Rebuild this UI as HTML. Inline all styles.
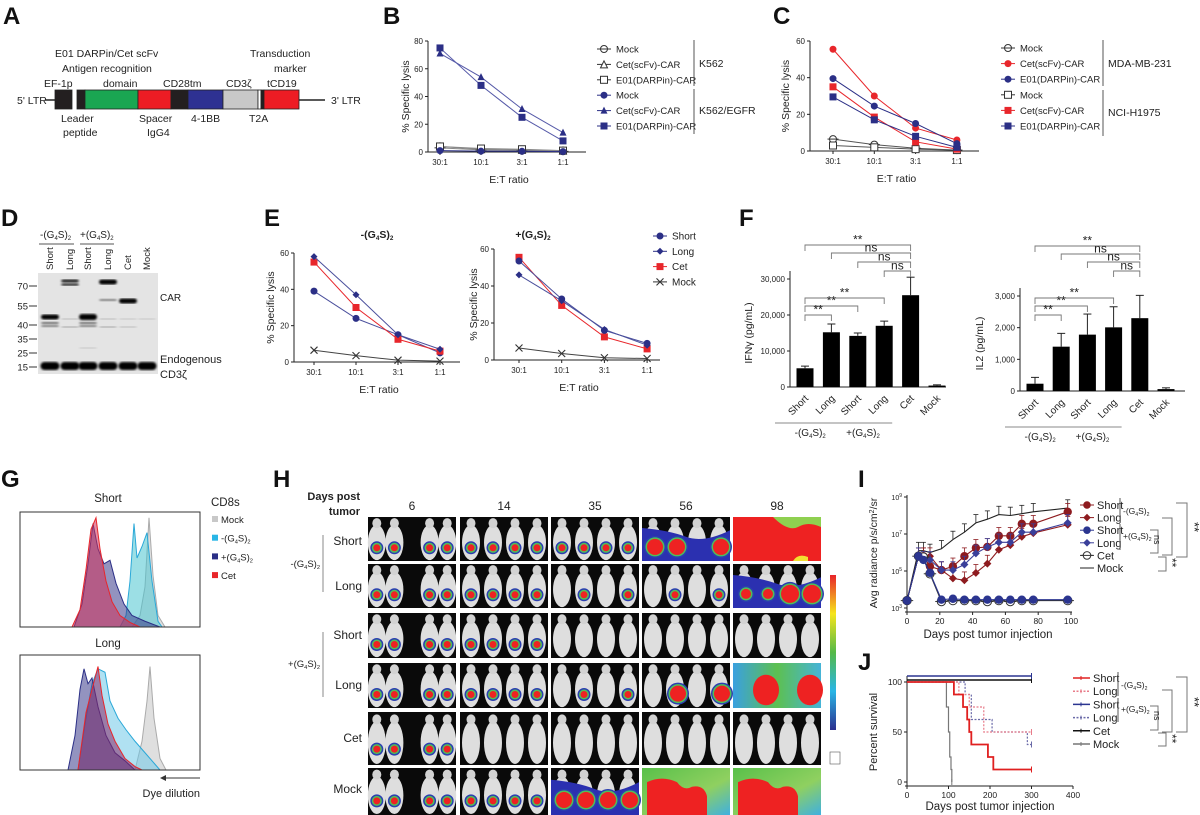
<!DOCTYPE html>
<html><head><meta charset="utf-8"><style>
html,body{margin:0;padding:0;background:#fff;}
svg{display:block;font-family:"Liberation Sans",sans-serif;}
</style></head><body>
<svg id="fig" width="1200" height="815" viewBox="0 0 1200 815" xmlns="http://www.w3.org/2000/svg">
<defs>
<filter id="blur1"><feGaussianBlur stdDeviation="1.1"/></filter>
<linearGradient id="cbar" x1="0" y1="0" x2="0" y2="1">
<stop offset="0" stop-color="#e8232a"/><stop offset="0.25" stop-color="#f6e51b"/><stop offset="0.5" stop-color="#54b948"/><stop offset="0.75" stop-color="#29b6e6"/><stop offset="1" stop-color="#2b2f8f"/></linearGradient>
<linearGradient id="gbg" x1="0" y1="0" x2="1" y2="0"><stop offset="0" stop-color="#3aa0e0"/><stop offset="0.5" stop-color="#5dc050"/><stop offset="1" stop-color="#46b4d8"/></linearGradient>
<linearGradient id="mockbg" x1="0" y1="0" x2="1" y2="1"><stop offset="0" stop-color="#59c04a"/><stop offset="0.6" stop-color="#8fd060"/><stop offset="1" stop-color="#40b0e0"/></linearGradient>
</defs>
</svg>
<script>
// ---------- data ----------
const etCats=['30:1','10:1','3:1','1:1'];
// B
const bMockK562=[3,1.5,1,0.5];
const bCetK562=[4,2,1.5,1];
const bE01K562=[4,2.5,2,1];
const bMockEGFR=[1,0.6,0.5,0.3];
const bCetEGFR=[71,54,31,14];
const bE01EGFR=[75,48,25,8];
const bYTicks=[0,20,40,60,80];
// C
const cMockMDA=[6.5,3.5,1.5,0.5];
const cCetMDA=[55.5,30,12.5,6];
const cE01MDA=[39.5,24.5,15,4];
const cMockNCI=[3,2,1,0.5];
const cCetNCI=[35,18.5,5,1];
const cE01NCI=[29.5,17,8,2];
const cYTicks=[0,20,40,60];
// E
const eShortMinus=[39,24,15,5];
const eLongMinus=[58,37,15,7];
const eCetMinus=[55,30,12.5,6];
const eMockMinus=[6.5,3.5,1,0.5];
const eShortPlus=[53.5,33,16,9];
const eLongPlus=[46,32,16.5,8];
const eCetPlus=[55.5,29.5,12.5,6];
const eMockPlus=[6.5,3.5,1.2,0.8];
const eYTicks=[0,20,40,60];
// F
const fCats=['Short','Long','Short','Long','Cet','Mock'];
const fIfng=[5200,15200,14200,17000,25500,400];
const fIfngErr=[600,2300,800,1300,5000,200];
const fIl2=[230,1400,1780,2010,2300,60];
const fIl2Err=[200,420,650,650,720,40];
const fIfngTicks=[0,10000,20000,30000];
const fIfngTickLabels=['0','10,000','20,000','30,000'];
const fIl2Ticks=[0,1000,2000,3000];
const fIl2TickLabels=['0','1,000','2,000','3,000'];
// G histograms: [channel, count%]
const gShortCet=[[52,0],[60,15],[66,50],[71,85],[76,95],[80,68],[86,40],[92,22],[100,10],[110,4],[120,0]];
const gShortPlus=[[54,0],[62,20],[68,55],[73,90],[78,68],[84,55],[90,58],[96,38],[104,20],[112,10],[125,5],[140,0]];
const gShortMinus=[[100,0],[106,10],[110,40],[114,90],[117,60],[122,70],[127,82],[132,40],[138,5],[142,0]];
const gShortMock=[[112,0],[120,10],[125,35],[129,95],[133,45],[138,10],[145,0]];
const gLongPlus=[[48,0],[55,30],[60,70],[64,88],[68,75],[72,80],[78,55],[86,30],[95,15],[105,8],[115,0]];
const gLongMinus=[[58,0],[65,40],[72,75],[78,88],[85,85],[90,60],[98,45],[106,35],[115,25],[125,15],[135,5],[140,0]];
const gLongCet=[[58,0],[66,50],[72,70],[78,90],[82,65],[88,40],[95,25],[105,10],[115,3],[122,0]];
const gLongMock=[[115,0],[122,25],[127,60],[130,90],[134,45],[140,10],[146,0]];
// H
const hDays=['6','14','35','56','98'];
const hRows=['Short','Long','Short','Long','Cet','Mock'];
const hSignal=[['s','s','s','B','F'],['s','s','s2','s2','B'],['s','s','n','n','n'],['s','s','s2','R','G'],['s','n','n','n','n'],['s','s','B','M','M']];
// I (log10 radiance)
const iDays=[0,7,10,14,21,28,35,42,49,56,63,70,77,98];
const iMock=[3.4,6.1,6.1,6.0,6.2,6.7,7.1,7.6,7.8,8.05,8.0,8.1,8.2,8.4];
const iShortMinus=[3.4,5.8,5.8,5.25,5.05,5.25,5.8,6.25,6.3,6.9,6.9,7.55,7.55,8.2];
const iLongMinus=[3.4,5.8,5.8,5.8,5.05,4.6,4.5,4.9,5.4,6.15,6.4,6.85,7.05,7.5];
const iShortPlus=[3.4,5.8,5.6,4.9,3.45,3.5,3.45,3.45,3.45,3.45,3.45,3.45,3.45,3.45];
const iLongPlus=[3.4,5.8,5.6,5.6,5.05,5.05,5.35,5.95,6.3,6.55,6.55,7.1,7.1,7.6];
const iCet=[3.4,5.8,5.75,4.85,3.35,3.4,3.4,3.4,3.35,3.4,3.35,3.4,3.4,3.4];
const iXTicks=[0,20,40,60,80,100];
const iYTicks=[3,5,7,9];
// J survival
const jShortMinusT=[0,113,135,145,150,155,195,208,300];
const jShortMinusS=[100,87.5,75,62.5,50,37.5,25,12.5,12.5];
const jLongMinusT=[0,125,150,185,300];
const jLongMinusS=[100,87.5,75,50,50];
const jLongPlusT=[0,140,155,205,290,300];
const jLongPlusS=[100,87.5,62.5,50,37.5,37.5];
const jMockT=[0,95,100,103,106,108];
const jMockS=[100,75,50,25,12.5,0];
const jCetT=[0,300];
const jCetS=[100,100];
const jShortPlusT=[0,300];
const jShortPlusS=[100,100];
const jXTicks=[0,100,200,300,400];
const jYTicks=[0,50,100];

// ---------- helpers ----------
const NS='http://www.w3.org/2000/svg';
const svg=document.getElementById('fig');
const NAVY='#2b2f86', RED='#e8262b', DRED='#8e1b1f';
function el(parent,tag,attrs,name){
  const e=document.createElementNS(NS,tag);
  for(const k in attrs) e.setAttribute(k,attrs[k]);
  
  
  parent.appendChild(e);return e;
}
function grp(name){return el(svg,'g',{},name);}
function txt(p,x,y,s,size,name,o){
  const t=el(p,'text',Object.assign({x:x,y:y,'font-size':size,fill:'#222'},o||{}),name);
  t.textContent=s;return t;
}
function g4s(p,x,y,size,sign,anchor,name,bold){
  const t=el(p,'text',{x:x,y:y,'font-size':size,'text-anchor':anchor||'start','font-weight':bold?'bold':'normal',fill:'#222'},name);
  const s=(size*0.6).toFixed(1);
  t.innerHTML=sign+'(G<tspan font-size="'+s+'" dy="2">4</tspan><tspan dy="-2">S)</tspan><tspan font-size="'+s+'" dy="2">2</tspan>';
  return t;
}
function line(p,x1,y1,x2,y2,name,st,w,dash){
  const o={x1:x1,y1:y1,x2:x2,y2:y2,stroke:st||'#222','stroke-width':w||1};
  if(dash)o['stroke-dasharray']=dash;
  return el(p,'line',o,name);
}
function marker(p,type,x,y,c,r,name){
  r=r||3.5;
  if(type==='circle')return el(p,'circle',{cx:x,cy:y,r:r,fill:c},name);
  if(type==='ocircle'){const g=el(p,'g',{},name);el(g,'circle',{cx:x,cy:y,r:r,fill:'#fff',stroke:c,'stroke-width':1},name+'-ring');el(g,'line',{x1:x-r-2,y1:y,x2:x+r+2,y2:y,stroke:c,'stroke-width':1},name+'-bar');return g;}
  if(type==='sq')return el(p,'rect',{x:x-r,y:y-r,width:2*r,height:2*r,fill:c},name);
  if(type==='osq')return el(p,'rect',{x:x-r,y:y-r,width:2*r,height:2*r,fill:'#fff',stroke:c,'stroke-width':1},name);
  if(type==='tri')return el(p,'polygon',{points:(x)+','+(y-r-0.5)+' '+(x-r)+','+(y+r-0.5)+' '+(x+r)+','+(y+r-0.5),fill:c},name);
  if(type==='otri')return el(p,'polygon',{points:(x)+','+(y-r)+' '+(x-r)+','+(y+r)+' '+(x+r)+','+(y+r),fill:'#fff',stroke:c},name);
  if(type==='dia')return el(p,'polygon',{points:x+','+(y-r)+' '+(x+r)+','+y+' '+x+','+(y+r)+' '+(x-r)+','+y,fill:c},name);
  if(type==='x'){const g=el(p,'g',{},name);el(g,'path',{d:'M'+(x-r)+','+(y-r)+'L'+(x+r)+','+(y+r)+'M'+(x-r)+','+(y+r)+'L'+(x+r)+','+(y-r),stroke:c,'stroke-width':1.1},name+'-cross');return g;}
}
function yLabel(p,x,y,s,size,name){return txt(p,x,y,s,size,name,{'text-anchor':'middle',transform:'rotate(-90 '+x+' '+y+')'});}

function lineChart(name,cfg){
  const g=grp(name);
  const xs=i=>cfg.xStart+i*cfg.xStep;
  const ys=v=>cfg.y0-v/cfg.ymax*(cfg.y0-cfg.yTop);
  line(g,cfg.ax,cfg.y0,cfg.ax,cfg.yTop,name+'-y-axis');
  line(g,cfg.ax,cfg.y0,cfg.axEnd,cfg.y0,name+'-x-axis');
  cfg.yticks.forEach(v=>{line(g,cfg.ax-3,ys(v),cfg.ax,ys(v),name+'-y-tick');
    txt(g,cfg.ax-5,ys(v)+3,String(v),8,name+'-y-tick-label',{'text-anchor':'end'});});
  cfg.cats.forEach((c,i)=>{line(g,xs(i),cfg.y0,xs(i),cfg.y0+3,name+'-x-tick');
    txt(g,xs(i),cfg.y0+13,c,8,name+'-x-tick-label',{'text-anchor':'middle'});});
  yLabel(g,cfg.ylx,(cfg.y0+cfg.yTop)/2,'% Specific lysis',10.5,name+'-y-axis-title');
  txt(g,(cfg.ax+cfg.axEnd)/2+2,cfg.y0+31,'E:T ratio',10.5,name+'-x-axis-title',{'text-anchor':'middle'});
  cfg.series.forEach(s=>{
    const pts=s.vals.map((v,i)=>xs(i)+','+ys(v)).join(' ');
    el(g,'polyline',{points:pts,fill:'none',stroke:s.line||s.color,'stroke-width':1},name+'-line-'+s.key);
    s.vals.forEach((v,i)=>marker(g,s.type,xs(i),ys(v),s.color,s.r||3.5,name+'-point-'+s.key));
  });
  return g;
}
function legendRow(p,x,y,type,c,label,name,fs){
  line(p,x-7,y,x+7,y,name+'-line',c);
  marker(p,type,x,y,c,3.5,name+'-marker');
  txt(p,x+12,y+3.5,label,fs||10,name+'-label');
}
// ---------- panel letters ----------
const letters=grp('panel-letters');
[['A',3,24],['B',383,24],['C',773,24],['D',1,226],['E',264,226],['F',739,226],['G',1,487],['H',273,487],['I',858,487],['J',858,670]].forEach(l=>{
  txt(letters,l[1],l[2],l[0],24,'panel-letter-'+l[0],{'font-weight':'bold',fill:'#111'});
});

// ---------- A ----------
(function(){
  const g=grp('panel-a-construct');
  txt(g,17,104,"5' LTR",10.5,'ltr5-label');
  line(g,45,100,56,100,'ltr5-line','#222',1.5);
  line(g,298,100,325,100,'ltr3-line','#222',1.5);
  txt(g,331,104,"3' LTR",10.5,'ltr3-label');
  const boxes=[[55,72,'#231f20','ef1p-box'],[77,85,'#231f20','leader-box'],[85,138,'#1aa652','antigen-domain-box'],[138,171,'#ed1c24','spacer-box'],[171,188,'#231f20','cd28tm-box'],[188,223,'#2e3192','4-1bb-box'],[223,258,'#c8c8c8','cd3z-box'],[258,261,'#fff','t2a-box'],[261,264,'#231f20','t2a-bar'],[264,299,'#ed1c24','tcd19-box']];
  boxes.forEach(b=>el(g,'rect',{x:b[0],y:90,width:b[1]-b[0],height:19,fill:b[2],stroke:'#222','stroke-width':0.8},b[3]));
  const labs=[[55,57,'E01 DARPin/Cet scFv'],[62,72,'Antigen recognition'],[44,87,'EF-1p'],[103,87,'domain'],[163,87,'CD28tm'],[226,87,'CD3\u03b6'],[250,57,'Transduction'],[274,72,'marker'],[267,87,'tCD19'],[61,122,'Leader'],[63,136,'peptide'],[139,122,'Spacer'],[147,136,'IgG4'],[191,122,'4-1BB'],[249,122,'T2A']];
  labs.forEach(l=>txt(g,l[0],l[1],l[2],10.5,'construct-label'));
})();

// ---------- B ----------
lineChart('panel-b-chart',{ax:428,axEnd:586,y0:152,yTop:41,ymax:80,yticks:bYTicks,xStart:440,xStep:41,cats:etCats,ylx:409,
  series:[{key:'mock-k562',vals:bMockK562,type:'ocircle',color:'#333',line:'#888'},{key:'cet-k562',vals:bCetK562,type:'otri',color:'#333',line:'#888'},{key:'e01-k562',vals:bE01K562,type:'osq',color:'#333',line:'#888'},
  {key:'mock-egfr',vals:bMockEGFR,type:'circle',color:NAVY},{key:'cet-egfr',vals:bCetEGFR,type:'tri',color:NAVY,line:'#5559a8'},{key:'e01-egfr',vals:bE01EGFR,type:'sq',color:NAVY,line:'#5559a8'}]});
(function(){
  const g=grp('panel-b-legend');
  const rows=[['ocircle','#333','Mock'],['otri','#333','Cet(scFv)-CAR'],['osq','#333','E01(DARPin)-CAR'],['circle',NAVY,'Mock'],['tri',NAVY,'Cet(scFv)-CAR'],['sq',NAVY,'E01(DARPin)-CAR']];
  rows.forEach((r,i)=>legendRow(g,604,49+i*15.4,r[0],r[1],r[2],'legend-entry-b',9.5));
  line(g,694,40,694,86,'legend-bracket-k562','#555');
  line(g,694,89,694,134,'legend-bracket-egfr','#555');
  txt(g,699,67,'K562',10.5,'legend-group-k562');
  txt(g,699,114,'K562/EGFR',10.5,'legend-group-k562-egfr');
})();

// ---------- C ----------
lineChart('panel-c-chart',{ax:810,axEnd:979,y0:151,yTop:41,ymax:60,yticks:cYTicks,xStart:833,xStep:41.3,cats:etCats,ylx:789,
  series:[{key:'mock-mda',vals:cMockMDA,type:'ocircle',color:'#333',line:'#555'},{key:'mock-nci',vals:cMockNCI,type:'osq',color:'#333',line:'#555'},
  {key:'cet-mda',vals:cCetMDA,type:'circle',color:RED},{key:'e01-mda',vals:cE01MDA,type:'circle',color:NAVY},{key:'cet-nci',vals:cCetNCI,type:'sq',color:RED},{key:'e01-nci',vals:cE01NCI,type:'sq',color:NAVY}]});
(function(){
  const g=grp('panel-c-legend');
  const rows=[['ocircle','#333','Mock'],['circle',RED,'Cet(scFv)-CAR'],['circle',NAVY,'E01(DARPin)-CAR'],['osq','#333','Mock'],['sq',RED,'Cet(scFv)-CAR'],['sq',NAVY,'E01(DARPin)-CAR']];
  rows.forEach((r,i)=>legendRow(g,1008,48+i*15.6,r[0],r[1],r[2],'legend-entry-c',9.5));
  line(g,1103,40,1103,86,'legend-bracket-mda','#555');
  line(g,1103,90,1103,136,'legend-bracket-nci','#555');
  txt(g,1108,67,'MDA-MB-231',10.5,'legend-group-mda');
  txt(g,1108,116,'NCI-H1975',10.5,'legend-group-nci');
})();

// ---------- D ----------
(function(){
  const g=grp('panel-d-western-blot');
  g4s(g,40,238,10,'-','start','group-label-minus-g4s');
  g4s(g,80,238,10,'+','start','group-label-plus-g4s');
  line(g,39,244,74,244,'group-line-minus','#555');
  line(g,80,244,114,244,'group-line-plus','#555');
  const lanes=[50,70,88,108,128,147];
  ['Short','Long','Short','Long','Cet','Mock'].forEach((l,i)=>txt(g,lanes[i]+3,270,l,9.5,'lane-label',{transform:'rotate(-90 '+(lanes[i]+3)+' 270)'}));
  el(g,'rect',{x:38,y:273,width:120,height:101,fill:'#e4e4e4'},'blot-membrane');
  const mk=[['70',286],['55',306],['40',325],['35',339],['25',353],['15',367]];
  mk.forEach(m=>{txt(g,28,m[1]+3.5,m[0],9.5,'marker-label',{'text-anchor':'end'});line(g,29,m[1],37,m[1],'marker-tick','#333');});
  const bands=[[0,317,5,1],[0,323,2,0.6],[0,326,2,0.5],[1,281,3,0.9],[1,284.5,2.5,0.85],[1,319,1.5,0.2],[1,327,1.5,0.3],[2,317,6,1],[2,323,2,0.6],[2,326,2,0.5],[2,348,1.5,0.15],[3,282,5,1],[3,300,2,0.5],[3,319,1.5,0.2],[3,327,1.5,0.3],[4,301,5,1],[4,319,1.5,0.15],[4,327,1.5,0.2],[5,319,1.5,0.15]];
  bands.forEach(b=>el(g,'rect',{x:lanes[b[0]]-9,y:b[1]-b[2]/2,width:18,height:b[2],fill:'#000','fill-opacity':b[3],rx:3,filter:'url(#blur1)'},'blot-band'));
  lanes.forEach(x=>el(g,'rect',{x:x-9.5,y:362,width:19,height:8,fill:'#000',rx:4,filter:'url(#blur1)'},'blot-band-cd3z'));
  txt(g,160,301,'CAR',10,'band-label-car');
  txt(g,160,363,'Endogenous',11,'band-label-endogenous');
  txt(g,160,378,'CD3\u03b6',11,'band-label-cd3z');
})();

// ---------- E ----------
lineChart('panel-e-chart-minus',{ax:294,axEnd:460,y0:362,yTop:253,ymax:60,yticks:eYTicks,xStart:314,xStep:42,cats:etCats,ylx:274,
  series:[{key:'mock',vals:eMockMinus,type:'x',color:'#333',line:'#444'},{key:'short',vals:eShortMinus,type:'circle',color:NAVY,line:'#4a4f9c'},{key:'cet',vals:eCetMinus,type:'sq',color:RED},{key:'long',vals:eLongMinus,type:'dia',color:NAVY,line:'#4a4f9c'}]});
lineChart('panel-e-chart-plus',{ax:494,axEnd:660,y0:360,yTop:249,ymax:60,yticks:eYTicks,xStart:519,xStep:42.7,cats:etCats,ylx:477,
  series:[{key:'mock',vals:eMockPlus,type:'x',color:'#333',line:'#444'},{key:'cet',vals:eCetPlus,type:'sq',color:RED},{key:'short',vals:eShortPlus,type:'circle',color:NAVY,line:'#4a4f9c'},{key:'long',vals:eLongPlus,type:'dia',color:NAVY,line:'#4a4f9c'}]});
(function(){
  const g=grp('panel-e-titles-legend');
  g4s(g,377,238,10.5,'-','middle','e-title-minus',true);
  g4s(g,533,238,10.5,'+','middle','e-title-plus',true);
  const rows=[['circle',NAVY,'Short'],['dia',NAVY,'Long'],['sq',RED,'Cet'],['x','#333','Mock']];
  rows.forEach((r,i)=>legendRow(g,660,236+i*15.3,r[0],r[1],r[2],'legend-entry-e'));
})();

// ---------- F ----------
function barChart(name,cfg){
  const g=grp(name);
  const ys=v=>cfg.y0-v/cfg.ymax*(cfg.y0-cfg.yTop);
  const xs=i=>cfg.xStart+i*cfg.xStep;
  line(g,cfg.ax,cfg.y0,cfg.ax,cfg.yTop-8,name+'-y-axis');
  line(g,cfg.ax,cfg.y0,cfg.axEnd,cfg.y0,name+'-x-axis');
  cfg.ticks.forEach((v,i)=>{line(g,cfg.ax-3,ys(v),cfg.ax,ys(v),name+'-y-tick');txt(g,cfg.ax-5,ys(v)+3,cfg.tickLabels[i],8,name+'-y-tick-label',{'text-anchor':'end'});});
  cfg.vals.forEach((v,i)=>{
    const x=xs(i),e=cfg.errs[i];
    line(g,x,ys(v),x,ys(v+e),name+'-error-bar','#222');
    line(g,x-4,ys(v+e),x+4,ys(v+e),name+'-error-cap','#222');
    el(g,'rect',{x:x-8.5,y:ys(v),width:17,height:cfg.y0-ys(v),fill:'#000'},name+'-bar-'+i);
    const lx=x+4,ly=cfg.y0+12;
    txt(g,lx,ly,fCats[i],10,name+'-x-label',{'text-anchor':'end',transform:'rotate(-45 '+lx+' '+ly+')'});
  });
  yLabel(g,cfg.ylx,(cfg.y0+cfg.yTop)/2,cfg.ytitle,10.5,name+'-y-axis-title');
  cfg.brackets.forEach(b=>{
    const x1=xs(b[0]),x2=xs(b[1]);
    el(g,'path',{d:'M'+x1+','+(b[2]+6)+'V'+b[2]+'H'+x2+'V'+(b[2]+6),fill:'none',stroke:'#777','stroke-width':0.9},name+'-sig-bracket');
    txt(g,(x1+x2)/2,b[2]-1.5,b[3],12,name+'-sig-label',{'text-anchor':'middle'});
  });
  const gy=cfg.y0+36;
  line(g,xs(0)-30,gy,xs(1)+12,gy,name+'-group-line-minus','#888');
  line(g,xs(2)-28,gy,xs(3)+8,gy,name+'-group-line-plus','#888');
  g4s(g,(xs(0)+xs(1))/2-8,gy+13,10,'-','middle',name+'-group-label-minus');
  g4s(g,(xs(2)+xs(3))/2-8,gy+13,10,'+','middle',name+'-group-label-plus');
  return g;
}
barChart('panel-f-ifng-chart',{ax:790,axEnd:946,y0:387,yTop:279,ymax:30000,ticks:fIfngTicks,tickLabels:fIfngTickLabels,vals:fIfng,errs:fIfngErr,xStart:805,xStep:26.4,ylx:752,ytitle:'IFN\u03b3 (pg/mL)',
  brackets:[[0,4,245,'**'],[1,4,253,'ns'],[2,4,262,'ns'],[3,4,271,'ns'],[0,3,298,'**'],[0,2,306,'**'],[0,1,315,'**']]});
barChart('panel-f-il2-chart',{ax:1020,axEnd:1185,y0:391,yTop:296,ymax:3000,ticks:fIl2Ticks,tickLabels:fIl2TickLabels,vals:fIl2,errs:fIl2Err,xStart:1035,xStep:26.2,ylx:983,ytitle:'IL2 (pg/mL)',
  brackets:[[0,4,246,'**'],[1,4,254,'ns'],[2,4,262,'ns'],[3,4,271,'ns'],[0,3,298,'**'],[0,2,306,'**'],[0,1,315,'**']]});

// ---------- G ----------
(function(){
  const g=grp('panel-g-histograms');
  function hist(box,pts,fill,stroke,name){
    const d='M'+pts.map(p=>(box.x+p[0])+','+(box.y+box.h-p[1]/100*box.h)).join('L')+'Z';
    el(g,'path',{d:d,fill:fill,'fill-opacity':0.55,stroke:stroke,'stroke-width':1},name);
  }
  const b1={x:20,y:512,w:180,h:115},b2={x:20,y:655,w:180,h:115};
  txt(g,108,502,'Short',11.5,'histogram-title-short',{'text-anchor':'middle'});
  txt(g,108,647,'Long',11.5,'histogram-title-long',{'text-anchor':'middle'});
  hist(b1,gShortMock,'#c4c4c4','#aaa','hist-short-mock');
  hist(b1,gShortMinus,'#4bc4cf','#2aa8d8','hist-short-minus');
  hist(b1,gShortPlus,'#3b3b8a','#2b2f86','hist-short-plus');
  hist(b1,gShortCet,'#d0305a','#e8262b','hist-short-cet');
  hist(b2,gLongMock,'#c4c4c4','#aaa','hist-long-mock');
  hist(b2,gLongMinus,'#6fc8e8','#2aa8d8','hist-long-minus');
  hist(b2,gLongPlus,'#3b3b8a','#2b2f86','hist-long-plus');
  hist(b2,gLongCet,'#8a2a6a','#e8262b','hist-long-cet');
  el(g,'rect',{x:b1.x,y:b1.y,width:b1.w,height:b1.h,fill:'none',stroke:'#333','stroke-width':1},'histogram-box-short');
  el(g,'rect',{x:b2.x,y:b2.y,width:b2.w,height:b2.h,fill:'none',stroke:'#333','stroke-width':1},'histogram-box-long');
  txt(g,211,506,'CD8s',11.5,'legend-title-cd8s');
  const rows=[['#c8c8c8','Mock'],['#29b6e6','-'],['#2b2f86','+'],['#e8262b','Cet']];
  rows.forEach((r,i)=>{const y=520+i*18.7;
    el(g,'rect',{x:212,y:y-4,width:6,height:6,fill:r[0]},'legend-swatch-g');
    if(r[1]==='-'||r[1]==='+')g4s(g,221,y+3,9.5,r[1],'start','legend-label-g');else txt(g,221,y+3,r[1],9.5,'legend-label-g');});
  line(g,166,778,200,778,'dye-dilution-arrow','#333');
  el(g,'path',{d:'M166,775L160,778L166,781Z',fill:'#333'},'dye-dilution-arrowhead');
  txt(g,200,797,'Dye dilution',11,'dye-dilution-label',{'text-anchor':'end'});
})();

// ---------- H ----------
(function(){
  const g=grp('panel-h-imaging');
  txt(g,360,500,'Days post',11,'days-post-label',{'text-anchor':'end','font-weight':'bold'});
  txt(g,360,515,'tumor',11,'tumor-label',{'text-anchor':'end','font-weight':'bold'});
  const colX=[368,460,551,642,733],colW=88;
  const rowY=[517,564,613,663,712,768],rowH=[44,44,45,45,53,47];
  hDays.forEach((d,i)=>txt(g,colX[i]+colW/2,510,d,12,'day-label',{'text-anchor':'middle'}));
  const labY=[545,590,639,689,742,793];
  hRows.forEach((r,i)=>txt(g,362,labY[i],r,12,'row-label',{'text-anchor':'end'}));
  line(g,323,535,323,592,'group-line-minus-h','#888');
  line(g,323,632,323,697,'group-line-plus-h','#888');
  g4s(g,320,567,9.5,'-','end','group-label-minus-h');
  g4s(g,320,667,9.5,'+','end','group-label-plus-h');
  function spot(x,y,r,name){
    el(g,'circle',{cx:x,cy:y,r:r+3,fill:'#2b3fb0'},name+'-blue');
    el(g,'circle',{cx:x,cy:y,r:r+1.5,fill:'#4fbf5a'},name+'-green');
    el(g,'circle',{cx:x,cy:y,r:r,fill:'#ee2222'},name+'-red');
  }
  hSignal.forEach((row,ri)=>row.forEach((sig,ci)=>{
    const x=colX[ci],y=rowY[ri],w=colW,h=rowH[ri];
    el(g,'rect',{x:x,y:y,width:w,height:h,fill:'#0a0a0a'},'image-tile');
    if(sig==='F'){
      el(g,'rect',{x:x,y:y,width:w,height:h,fill:'#ee2222'},'signal-full');
      el(g,'path',{d:'M'+(x+40)+','+y+'Q'+(x+55)+','+(y+15)+' '+(x+65)+','+(y+10)+'Q'+(x+75)+','+(y+4)+' '+(x+w)+','+(y+10)+'V'+y+'Z',fill:'#8fd050'},'signal-green');
      el(g,'path',{d:'M'+(x+60)+','+(y+h)+'Q'+(x+65)+','+(y+h-8)+' '+(x+75)+','+(y+h-4)+'V'+(y+h)+'Z',fill:'#f2e030'},'signal-yellow');
      return;
    }
    const slots=ci===0?[0,1,3,4]:[0,1,2,3];
    const sw=ci===0?w/5:w/4;
    const mx=slots.map(s=>x+sw*(s+0.5));
    if(sig==='M'){el(g,'rect',{x:x,y:y,width:w,height:h,fill:'url(#mockbg)'},'signal-bg');}
    if(sig==='G'){el(g,'rect',{x:x,y:y,width:w,height:h,fill:'url(#gbg)'},'signal-bg');}
    if(sig!=='M'&&sig!=='G'){
      mx.forEach(cx=>{
        el(g,'ellipse',{cx:cx,cy:y+h*0.58,rx:9,ry:h*0.4,fill:'#dedede'},'mouse-body');
        el(g,'ellipse',{cx:cx,cy:y+h*0.14,rx:4.5,ry:5,fill:'#d2d2d2'},'mouse-head');
      });
    }
    if(sig==='s')mx.forEach(cx=>spot(cx,y+h*0.7,3.5,'tumor-spot'));
    if(sig==='s2')[mx[1],mx[3]].forEach(cx=>spot(cx,y+h*0.7,3.5,'tumor-spot'));
    if(sig==='R')[mx[1],mx[3]].forEach(cx=>spot(cx+3,y+h*0.68,8,'tumor-blob'));
    if(sig==='B'){
      el(g,'path',{d:'M'+x+','+(y+h*0.25)+'Q'+(x+w*0.3)+','+(y+h*0.3)+' '+(x+w*0.5)+','+(y+h*0.45)+'T'+(x+w)+','+(y+h*0.3)+'V'+(y+h)+'H'+x+'Z',fill:'#2b30b0'},'signal-blue');
      mx.forEach((cx,k)=>{if(ri===0&&k===2)return;spot(cx+2,y+h*0.68,ri===1?(k>1?9:5):8,'tumor-blob');});
    }
    if(sig==='G'){mx.filter((c,k)=>k%2===1).forEach(cx=>{el(g,'ellipse',{cx:cx,cy:y+h*0.6,rx:13,ry:h*0.34,fill:'#ee2222'},'tumor-blob');});}
    if(sig==='M'){
      el(g,'path',{d:'M'+(x+5)+','+(y+h)+'V'+(y+h*0.3)+'Q'+(x+20)+','+(y+h*0.15)+' '+(x+35)+','+(y+h*0.3)+'Q'+(x+42)+','+(y+h*0.5)+' '+(x+50)+','+(y+h*0.4)+'Q'+(x+62)+','+(y+h*0.35)+' '+(x+65)+','+(y+h*0.6)+'V'+(y+h)+'Z',fill:'#ee2222'},'tumor-blob');
    }
  }));
  el(g,'rect',{x:830,y:575,width:6,height:155,fill:'url(#cbar)'},'color-scale-bar');
  el(g,'rect',{x:830,y:752,width:10,height:12,fill:'none',stroke:'#555','stroke-width':0.6},'color-scale-key');
})();

// ---------- I ----------
(function(){
  const g=grp('panel-i-chart');
  const xs=d=>907+d*1.64, ys=l=>608-(l-3)*18.5;
  line(g,907,612,907,495,'i-y-axis');line(g,905,612,1072,612,'i-x-axis');
  iXTicks.forEach(v=>{line(g,xs(v),612,xs(v),615,'i-x-tick');txt(g,xs(v),624,String(v),8.5,'i-x-tick-label',{'text-anchor':'middle'});});
  iYTicks.forEach(v=>{line(g,904,ys(v),907,ys(v),'i-y-tick');const t=el(g,'text',{x:902,y:ys(v)+3,'font-size':7,'text-anchor':'end',fill:'#222'},'i-y-tick-label');t.innerHTML='10<tspan font-size="5" dy="-3">'+v+'</tspan>';});
  txt(g,988,638,'Days post tumor injection',11.5,'i-x-axis-title',{'text-anchor':'middle'});
  const yt=el(g,'text',{x:877,y:553,'font-size':10.5,'text-anchor':'middle',fill:'#222',transform:'rotate(-90 877 553)'},'i-y-axis-title');
  yt.innerHTML='Avg radiance p/s/cm<tspan font-size="7" dy="-3">2</tspan><tspan dy="3">/sr</tspan>';
  const ser=[{k:'mock',v:iMock,c:'#222',t:null},{k:'short-minus',v:iShortMinus,c:DRED,t:'circle'},{k:'long-minus',v:iLongMinus,c:DRED,t:'dia'},{k:'long-plus',v:iLongPlus,c:'#3a3f9a',t:'dia'},{k:'cet',v:iCet,c:'#333',t:'ocircle'},{k:'short-plus',v:iShortPlus,c:'#2b3590',t:'circle'}];
  ser.forEach(s=>{
    el(g,'polyline',{points:s.v.map((l,i)=>xs(iDays[i])+','+ys(l)).join(' '),fill:'none',stroke:s.c,'stroke-width':1.1},'i-line-'+s.k);
    if(s.k!=='cet'&&s.k!=='short-plus')s.v.forEach((l,i)=>{if(i>0){line(g,xs(iDays[i]),ys(l),xs(iDays[i]),ys(l+0.45),'i-error-bar',s.c,0.8);line(g,xs(iDays[i])-2.5,ys(l+0.45),xs(iDays[i])+2.5,ys(l+0.45),'i-error-cap',s.c,0.8);}});
    if(s.t)s.v.forEach((l,i)=>marker(g,s.t,xs(iDays[i]),ys(l),s.c,s.t==='dia'?4:4.2,'i-point-'+s.k));
  });
  const rows=[['circle',DRED,'Short'],['dia',DRED,'Long'],['circle','#2b3590','Short'],['dia','#3a3f9a','Long'],['ocircle','#333','Cet'],[null,'#222','Mock']];
  rows.forEach((r,i)=>{const y=505+i*12.6;line(g,1080,y,1094,y,'legend-entry-i-line',r[1]);if(r[0])marker(g,r[0],1087,y,r[1],3.8,'legend-entry-i-marker');txt(g,1097,y+4,r[2],11,'legend-entry-i-label');});
  line(g,1120,498,1120,522,'i-legend-bracket-minus','#555');line(g,1120,524,1120,550,'i-legend-bracket-plus','#555');
  g4s(g,1123,514,8.5,'-','start','i-legend-group-minus');g4s(g,1123,539,8.5,'+','start','i-legend-group-plus');
  el(g,'path',{d:'M1150,530H1158V553H1150',fill:'none',stroke:'#777'},'i-sig-bracket-ns');
  txt(g,1154,535,'ns',9,'i-sig-label-ns',{transform:'rotate(90 1154 535)'});
  el(g,'path',{d:'M1162,518H1172V555H1162',fill:'none',stroke:'#777'},'i-sig-bracket-2');
  el(g,'path',{d:'M1176,503H1187V557H1176',fill:'none',stroke:'#777'},'i-sig-bracket-3');
  txt(g,1190,522,'**',13,'i-sig-label-3',{transform:'rotate(90 1190 522)'});
  el(g,'path',{d:'M1158,557H1166V571H1158',fill:'none',stroke:'#777'},'i-sig-bracket-4');
  txt(g,1168,558,'**',12,'i-sig-label-4',{transform:'rotate(90 1168 558)'});
})();

// ---------- J ----------
(function(){
  const g=grp('panel-j-chart');
  const xs=d=>907+d*0.415, ys=p=>782-p;
  line(g,907,786,907,676,'j-y-axis');line(g,905,786,1073,786,'j-x-axis');
  jXTicks.forEach(v=>{line(g,xs(v),786,xs(v),789,'j-x-tick');txt(g,xs(v),798,String(v),8.5,'j-x-tick-label',{'text-anchor':'middle'});});
  jYTicks.forEach(v=>{line(g,904,ys(v),907,ys(v),'j-y-tick');txt(g,902,ys(v)+3,String(v),8.5,'j-y-tick-label',{'text-anchor':'end'});});
  txt(g,990,810,'Days post tumor injection',11.5,'j-x-axis-title',{'text-anchor':'middle'});
  yLabel(g,877,732,'Percent survival',11,'j-y-axis-title');
  function km(T,S,c,w,dash,dy,name){
    let d='M'+xs(T[0])+','+(ys(S[0])+dy);
    for(let i=1;i<T.length;i++)d+='H'+xs(T[i])+'V'+(ys(S[i])+dy);
    const o={d:d,fill:'none',stroke:c,'stroke-width':w};if(dash)o['stroke-dasharray']=dash;
    el(g,'path',o,name);
    line(g,xs(T[T.length-1]),ys(S[S.length-1])+dy-3,xs(T[T.length-1]),ys(S[S.length-1])+dy+3,name+'-censor',c);
  }
  km(jMockT,jMockS,'#777',1.2,null,0,'j-curve-mock');
  km(jLongPlusT,jLongPlusS,'#6a6aa8',1.2,'2,1.5',0,'j-curve-long-plus');
  km(jLongMinusT,jLongMinusS,'#e87c8a',1.2,'2,1.5',0,'j-curve-long-minus');
  km(jShortMinusT,jShortMinusS,'#e02020',1.8,null,0,'j-curve-short-minus');
  km(jCetT,jCetS,'#111',1.6,null,-2,'j-curve-cet');
  km(jShortPlusT,jShortPlusS,'#2b3590',1.6,null,-6,'j-curve-short-plus');
  const rows=[['#e02020','Short',null],['#e87c8a','Long','2,1.5'],['#2b3590','Short',null],['#6a6aa8','Long','2,1.5'],['#111','Cet',null],['#777','Mock',null]];
  rows.forEach((r,i)=>{const y=678+i*13.2;const o={x1:1073,y1:y,x2:1090,y2:y,stroke:r[0],'stroke-width':1.5};if(r[2])o['stroke-dasharray']=r[2];el(g,'line',o,'legend-entry-j-line');line(g,1081,y-2,1081,y+2,'legend-entry-j-tick',r[0]);txt(g,1093,y+4,r[1],11,'legend-entry-j-label');});
  line(g,1118,672,1118,696,'j-legend-bracket-minus','#555');line(g,1118,698,1118,722,'j-legend-bracket-plus','#555');
  g4s(g,1121,688,8.5,'-','start','j-legend-group-minus');g4s(g,1121,712,8.5,'+','start','j-legend-group-plus');
  el(g,'path',{d:'M1150,706H1158V730H1150',fill:'none',stroke:'#777'},'j-sig-bracket-ns');
  txt(g,1154,711,'ns',9,'j-sig-label-ns',{transform:'rotate(90 1154 711)'});
  el(g,'path',{d:'M1162,690H1172V732H1162',fill:'none',stroke:'#777'},'j-sig-bracket-2');
  el(g,'path',{d:'M1176,677H1187V732H1176',fill:'none',stroke:'#777'},'j-sig-bracket-3');
  txt(g,1190,697,'**',13,'j-sig-label-3',{transform:'rotate(90 1190 697)'});
  el(g,'path',{d:'M1158,733H1166V746H1158',fill:'none',stroke:'#777'},'j-sig-bracket-4');
  txt(g,1168,734,'**',12,'j-sig-label-4',{transform:'rotate(90 1168 734)'});
})();
</script>
</body></html>
